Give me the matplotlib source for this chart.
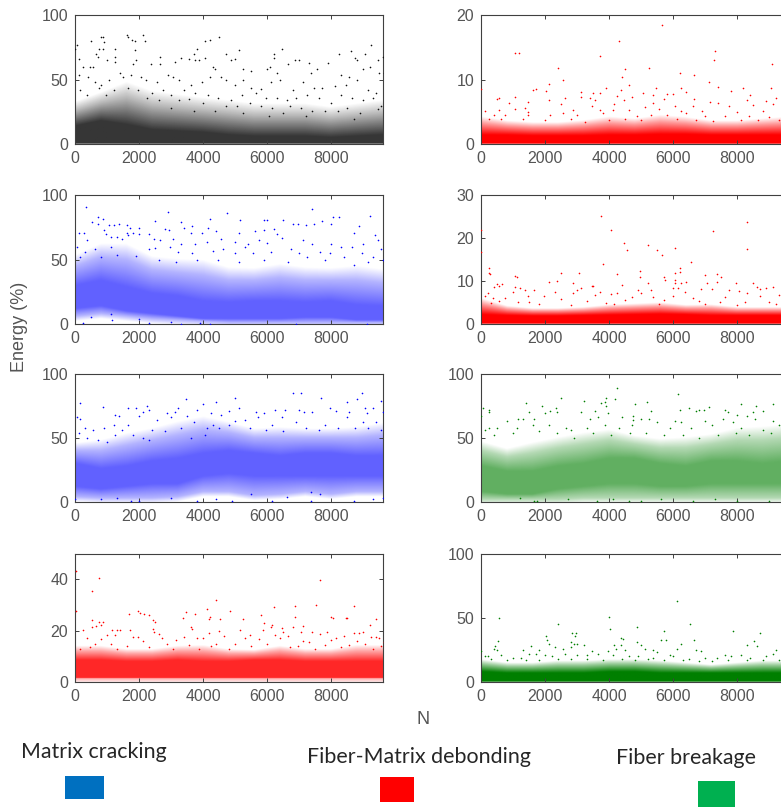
import numpy as np
import matplotlib
matplotlib.use("Agg")
import matplotlib.pyplot as plt
from matplotlib.colors import to_rgb
from matplotlib.patches import Rectangle

W, H = 781, 807
BLACK, BLUE, RED, GREEN = "#111111", "#0000FF", "#FF0000", "#007F00"

# x positions at which the density-band edges were read
band_x = [0, 800, 1600, 2400, 3200, 4000, 4800, 5600, 6400, 7200, 8000, 8800, 9615]

p1_outer = [26, 32, 36, 30, 28, 26, 24, 22, 22, 22, 20, 22, 24]
p1_inner = [14, 18, 15, 11, 10, 9, 7, 6, 6, 6, 5, 6, 7]
p2_outer = [3.2, 2.8, 2.6, 2.6, 2.8, 3.2, 3.0, 3.4, 3.2, 2.8, 2.8, 3.0, 3.2]
p2_inner = [1.4, 1.4, 1.3, 1.3, 1.3, 1.4, 1.4, 1.5, 1.5, 1.4, 1.4, 1.4, 1.4]
p3_outer_top = [45, 52, 50, 42, 40, 38, 34, 34, 36, 34, 34, 34, 32]
p3_outer_low = [6, 8, 6, 4, 3, 2, 1, 1, 1, 1, 1, 1, 1]
p3_inner_top = [30, 34, 29, 24, 22, 18, 17, 18, 18, 17, 18, 15, 14]
p3_inner_low = [12, 14, 10, 8, 6, 4, 4, 4, 4, 5, 5, 3, 3]
p4_outer = [4.6, 3.4, 3.0, 3.0, 3.2, 3.6, 3.8, 4.0, 3.6, 3.6, 3.2, 3.2, 3.2]
p4_inner = [2.2, 2.0, 1.9, 1.9, 2.0, 2.1, 2.2, 2.3, 2.2, 2.0, 2.0, 2.0, 2.0]
p5_outer_top = [40, 40, 44, 48, 52, 56, 54, 50, 50, 50, 50, 50, 52]
p5_outer_low = [4, 3, 3, 3, 4, 8, 8, 5, 6, 8, 6, 8, 8]
p5_inner_top = [30, 26, 28, 32, 34, 38, 40, 38, 36, 38, 38, 36, 36]
p5_inner_low = [12, 10, 12, 14, 14, 20, 22, 20, 20, 20, 20, 20, 20]
p6_outer_top = [40, 35, 38, 42, 45, 48, 45, 42, 42, 45, 48, 48, 50]
p6_outer_low = [2, 2, 2, 2, 3, 3, 3, 3, 3, 3, 3, 3, 3]
p6_inner_top = [28, 24, 24, 28, 30, 34, 34, 30, 28, 32, 32, 30, 32]
p6_inner_low = [8, 6, 6, 10, 12, 14, 14, 12, 12, 14, 14, 14, 14]
p7_outer = [12, 12, 11, 11, 12, 12, 11, 11, 12, 11, 11, 12, 12]
p7_inner = [8.5, 8.5, 8, 8, 8.5, 8, 8, 8.5, 8.5, 8, 8, 8, 8]
p7_low = [1.5, 1.5, 1.5, 1.5, 1.5, 1.5, 1.5, 1.5, 1.5, 1.5, 1.5, 1.5, 1.5]
p8_outer = [14, 12, 12, 13, 13, 14, 14, 13, 12, 11, 12, 13, 13]
p8_inner = [8, 7, 7, 7, 7, 8, 8, 7, 7, 7, 7, 7, 7]
zero_edge = [0] * 13

p1_points = [(1600,85),(1650,83),(1780,81),(1880,80),(2100,85),(2180,80),(800,83),(870,83),(900,79),(50,77),
(480,80),(1850,73),(850,74),(1250,74),(750,74),(0,74),(4050,80),(4200,81),(4500,83),(3800,74),(5100,73),(6450,74),
(6200,70),(9250,77),(9050,70),(9450,65),(9600,68),(8600,72),(8250,70),(8750,67),(8800,65),(7900,63),(7300,63),
(6850,65),(7000,65),(6650,62),(6200,67),(4700,70),(4850,65),(5000,66),(3700,70),(3300,67),(3550,66),(3750,65),
(3850,65),(4050,67),(2650,68),(2650,62),(3100,64),(2350,62),(1900,65),(1800,62),(650,70),(700,68),(130,66),
(240,60),(450,60),(560,60),(1000,65),(1250,68),(1250,64),(4300,60),(4350,58),(5250,58),(5500,57),(6000,58),
(6080,60),(6300,55),(7350,55),(7550,58),(8300,54),(8550,52),(9000,58),(9200,60),(9500,55),(9650,55),(100,54),
(400,52),(600,48),(800,46),(1050,50),(1400,55),(1500,52),(1750,54),(2050,52),(2200,50),(2550,48),(2900,54),
(3050,52),(3250,50),(3600,46),(3950,48),(4200,52),(4550,52),(4700,50),(5000,46),(5250,50),(5500,44),(5800,43),
(6100,48),(6400,50),(6800,42),(7100,48),(7450,44),(7700,44),(8100,45),(8450,46),(8800,50),(9150,42),(9400,40),
(150,42),(350,38),(750,44),(950,38),(1200,42),(1650,44),(1950,42),(2400,40),(2750,42),(3000,38),(3400,42),
(3750,40),(4150,38),(4450,36),(4850,34),(5200,38),(5650,40),(5950,36),(6300,36),(6600,34),(6900,36),(7250,38),
(7600,36),(8000,32),(8300,38),(8650,36),(9000,34),(9300,36),(9550,30),(2250,36),(2600,34),(3250,34),(3550,35),
(4000,32),(4700,30),(5050,30),(5450,32),(5800,30),(6150,28),(6700,30),(7050,28),(7400,26),(7800,26),(8200,26),
(8500,28),(8900,24),(9450,27),(3000,28),(3700,26),(4350,26),(5250,24),(6050,22),(6500,24),(7200,22),(8700,20)]

p2_points = [(5650,18.5),(4300,16),(1050,14.2),(1170,14.2),(7300,14.4),(7270,13),(3700,13.7),(9080,12.4),(2400,11.9),
(5250,11.9),(4500,11.6),(6200,11.1),(4400,10.5),(6650,10.7),(2550,9.9),(7100,9.6),(2100,9.3),(4600,9.2),(0,8.6),
(1600,8.4),(1700,8.5),(2030,8.2),(3900,8.7),(4350,8.4),(5450,8.7),(6250,8.7),(7400,8.9),(8170,8.7),(9050,8.8),
(3100,8.1),(3500,8),(3700,8),(5050,8),(6400,8.1),(7800,8.2),(5350,7.6),(5800,7.8),(6000,7.8),(8400,7.6),(1050,7.4),
(500,7.1),(560,7.2),(2600,7.2),(3100,7.3),(3400,7.2),(4250,7.5),(4700,7.4),(6650,7.1),(5720,7.1),(2100,6.9),
(3550,6.9),(4450,6.8),(8300,6.9),(8900,6.7),(9200,7.2),(850,6.4),(1470,6.5),(2500,6.3),(4150,6.3),(5350,6.4),
(7150,6.6),(7400,6.4),(7750,6),(8500,6.1),(9100,6.3),(1350,5.7),(3450,5.9),(5100,5.8),(6050,5.9),(6600,5.9),
(1050,5.4),(550,5.3),(130,5.2),(1450,5),(2850,5.3),(3700,5.3),(4100,5.3),(4600,5.3),(5550,5.5),(6250,5.2),(6900,5.2),
(8000,5),(8800,5.2),(400,4.5),(750,4.5),(1450,4.5),(2150,4.5),(2550,4.8),(3000,4.5),(3800,4.8),(4850,4.4),(5300,4.6),
(5800,4.6),(6400,4.8),(7000,4.4),(7600,4.4),(8350,4.4),(9000,4.3),(9500,4.2),(250,4),(600,3.9),(1300,4),(2000,3.7),
(2800,4),(3250,3.5),(4000,3.8),(4500,3.9),(5000,3.7),(6100,3.9),(6700,3.7),(7250,3.6),(8100,3.7),(8650,3.8),(9300,3.7)]

p3_points = [(330,91),(2900,87),(7400,89),(4750,86),(4200,82),(9200,84),(8050,83),(8250,83),(700,83),(880,82),(2500,80),
(5150,81),(5900,81),(5980,81),(6500,81),(520,79),(720,78),(3300,79),(6800,78),(6950,78),(7200,77),(7450,78),(7700,80),
(8000,78),(8850,76),(1050,77),(1200,77),(1350,78),(1600,77),(1700,75),(2000,75),(3400,75),(3650,76),(4150,75),
(6200,74),(5900,73),(2800,74),(2930,73),(900,73),(1600,71),(100,71),(280,71),(950,70),(1650,69),(1800,71),(2000,70),
(2300,70),(3600,71),(3950,71),(4400,72),(5100,71),(5600,72),(6300,70),(8700,71),(9350,69),(9450,65),(1100,68),(1300,68),
(1450,66),(350,65),(2450,66),(2650,65),(3050,66),(3300,62),(3750,62),(4100,64),(4550,66),(5000,64),(5400,62),(5750,65),
(6000,63),(6450,67),(7100,65),(7400,62),(8000,62),(8300,60),(8650,60),(9000,62),(9550,58),(50,60),(300,56),(600,58),
(1100,60),(2300,58),(2500,59),(2950,60),(3200,56),(3650,55),(4300,57),(4600,58),(5000,55),(5300,60),(5550,55),(6100,56),
(6750,58),(7000,55),(7650,56),(7950,55),(8400,52),(8950,55),(9300,52),(9600,50),(150,52),(800,52),(1300,54),(1900,53),
(2600,50),(3150,48),(3800,50),(4450,50),(5100,48),(5900,50),(6650,48),(7250,52),(7800,50),(8700,46),(9150,48),(1100,8),
(2000,4),(3000,2),(3900,1),(4200,0.5),(2300,1),(250,1),(1150,3),(3300,0.5),(9100,0.5),(6900,0.5),(500,6)]

p4_points = [(0,21.9),(0,16.7),(3750,25.2),(4050,22),(8300,23.7),(7250,21.8),(4450,19),(5200,18.5),(5500,17.2),(4550,17.2),
(8300,17.6),(6050,17.8),(5650,16.1),(6550,14.6),(3800,14),(6200,13.2),(230,13),(240,12),(270,11.6),(2500,12),(3050,12),
(4950,12.3),(6050,11.9),(6200,12.2),(4250,11.7),(7000,11.5),(7350,11.7),(1050,11.3),(1100,11.1),(4950,11),(5700,11),
(6050,10.2),(7500,10.9),(5750,10.3),(2100,9.8),(2350,10.1),(2850,9.7),(5200,9.6),(6050,9.7),(6250,9.6),(6400,9.8),
(7050,9.7),(7350,9.9),(7950,9.7),(8500,9.6),(500,9.4),(650,9.4),(550,9),(4400,9.2),(3450,8.8),(3500,8.9),(9100,8.6),
(400,8.7),(1050,8.6),(1200,8.4),(3100,8.5),(5300,8),(6150,8.5),(6000,8.4),(7200,8.3),(8700,8.3),(8900,8.4),(8600,8.7),
(1350,7.9),(1650,7.9),(3000,8),(4900,8),(3700,7.6),(6850,8.2),(7750,7.9),(8050,7.7),(200,7.3),(1000,7.4),(2300,7.6),
(2850,7.3),(4050,7),(4250,7.2),(6350,7.4),(8300,7.3),(9300,6.7),(100,6.5),(350,6.2),(750,6.2),(1450,6.5),(1950,6.6),
(3550,6.7),(4700,6.4),(5000,7.2),(5350,6.3),(6000,6.6),(6600,6.1),(7600,6.4),(8700,6.6),(9500,6.5),(550,5.5),(1150,5.2),
(1500,5.3),(2500,5.8),(3300,5.4),(3900,5),(4500,5.6),(5700,5.6),(6800,5.4),(7450,5.3),(8250,5.2),(9000,5.3),(300,4.9),
(1800,4.7),(2800,4.6),(4150,4.8),(5550,4.7),(7000,4.7),(8000,4.5),(9200,4.8)]

p5_points = [(6800,85),(7050,85),(8950,85),(4980,81),(3450,80),(7680,81),(9550,79),(150,77),(4400,78),(8500,78),(8800,80),
(4000,76),(850,74),(2250,75),(1650,73),(1900,73),(3200,73),(5100,73),(9050,73),(2100,70),(2300,72),(3800,72),(4250,69),
(4800,71),(6250,72),(6550,72),(7000,72),(7950,73),(8150,71),(9300,73),(1250,68),(1350,67),(2000,67),(2850,69),(3100,70),
(3500,67),(4550,68),(5650,70),(5900,69),(7150,70),(7400,70),(8550,70),(9100,69),(9600,70),(50,66),(150,65),(1200,60),
(1650,60),(2550,64),(3000,66),(3700,62),(4300,60),(5000,63),(5300,64),(5700,66),(6150,60),(6450,66),(6900,62),(7800,60),
(8500,66),(9000,62),(9400,62),(300,58),(550,56),(900,58),(1450,56),(2400,56),(2800,55),(3300,58),(4100,58),(4500,58),
(4800,60),(5450,58),(5950,56),(6500,55),(7200,58),(7600,56),(8200,58),(8750,58),(9150,58),(9550,56),(100,54),(350,50),
(700,48),(1000,47),(1250,52),(1800,52),(2100,50),(2300,48),(3600,50),(4050,52),(2,2),(1750,0.5),(2000,1),(3800,1),(4900,1),
(3000,3),(4400,2),(6150,1),(7350,0.5),(8700,1),(9300,2),(9600,3),(7650,6),(7350,8),(5500,6),(800,2),(1300,3),(6600,4)]

p6_points = [(4230,89),(6150,84),(2500,81),(3900,81),(3880,78),(4170,80),(3200,79),(1400,77),(3750,77),(3900,75),(5170,78),
(4800,76),(1900,75),(2320,73),(50,73),(230,72),(250,70),(7130,74),(6800,72),(6950,72),(8100,76),(8570,75),(9100,76),
(7600,72),(7700,70),(6200,72),(6700,71),(6500,73),(5300,71),(2150,71),(1500,70),(2000,69),(2350,70),(3100,70),(3550,71),
(3950,69),(8000,68),(8500,70),(8800,71),(8300,67),(0,67),(4750,67),(5000,65),(1150,65),(1300,65),(800,63),(1650,65),(3400,65),
(3650,66),(4400,66),(4750,64),(5250,65),(6050,63),(6250,62),(7000,63),(7550,65),(7850,62),(8550,65),(9100,63),(9600,65),
(250,58),(100,56),(500,58),(1100,58),(1600,60),(2100,60),(2650,58),(2800,56),(3300,58),(3850,60),(4300,58),(4700,60),(5500,62),
(5900,58),(6550,58),(7200,60),(8100,58),(8800,56),(9300,60),(400,52),(1000,54),(1800,55),(2350,54),(2900,50),(3500,54),(4050,52),
(4650,54),(5150,54),(5700,52),(6300,52),(6800,50),(7400,52),(7950,54),(8350,52),(9050,54),(9500,54),(1750,0.5),(1650,1),(3600,1),
(5000,1),(5600,2),(6600,1),(8000,1),(9000,1),(1200,3),(2700,2),(4100,2),(4600,1),(7300,2)]

p7_points = [(30,43.2),(750,40.5),(7640,39.6),(520,35.5),(4400,32),(7530,30),(6850,29.7),(8700,29.5),(6200,29.3),(4100,28.6),
(4820,27.7),(20,27.7),(1680,26.6),(1950,27.5),(2020,27),(2150,26.5),(2300,26),(3460,27.4),(3750,26.6),(5800,26),(4200,25.3),
(7990,25.5),(8040,25),(8450,25),(8500,24.8),(3370,25),(4170,24.5),(4530,24.5),(5250,24.4),(6850,25.2),(9410,24.7),(2420,24),
(2490,23.5),(510,24),(730,23.5),(860,23.5),(800,22.2),(5900,23),(6150,22.2),(7120,22),(9220,22.3),(530,21.5),(660,21.7),(6130,21.5),
(3600,21.5),(3650,20.7),(2430,20.8),(6450,21),(6800,21.3),(250,20.3),(1150,20.2),(1300,20.3),(1400,20.2),(1700,20.2),(2450,19.5),
(4180,19),(4500,19.7),(5150,20.4),(5850,20.4),(6500,19.5),(7050,19.4),(7400,19.3),(7650,18.7),(7850,19.5),(8700,19),(8850,19),
(9000,19.3),(2600,18.8),(1000,18.5),(1250,18.3),(1800,17.6),(1950,17.5),(3400,17.5),(4650,18),(5450,18.2),(6250,18.2),(6650,17.8),
(8400,17.8),(8150,17.2),(9250,17.5),(9400,17.4),(9500,17.3),(350,17),(800,16.8),(2700,17),(3150,16.5),(3800,17),(4000,17),(5300,17),
(5750,16.6),(6400,17),(7100,16),(7300,15.5),(8000,16.5),(8800,15.8),(9650,15.5),(600,15),(1100,15),(2100,15.8),(2850,15),(3550,14.5),
(4400,15),(5000,15),(5500,14),(6000,15),(6950,14),(7800,14.5),(8550,14.5),(9050,15),(150,13),(450,13.5),(1300,13),(1600,14),(2300,13.5),
(3050,13),(3850,13),(4250,14),(4800,13),(6700,13.5),(7500,13),(8300,13.5),(9300,13),(9550,14)]

p8_points = [(6100,63.5),(550,50),(4000,51),(2390,45),(6520,45),(4850,43),(4030,41),(5720,40),(7880,39.5),(2840,38),(2960,38),
(8700,38),(2940,35.5),(2020,36),(4350,34),(4420,33.5),(5600,33),(5780,33),(6650,33),(520,32),(2050,32.5),(2800,31.5),(4850,31),
(8520,32),(430,28),(2100,30),(1540,28),(2900,30),(3000,30),(3200,29),(4150,29),(4350,29),(5000,29),(6250,29.5),(8300,28.5),(8600,28),
(9600,27),(0,24),(400,26),(500,25),(1300,25),(1800,25),(2300,27),(2560,26),(2800,27),(3450,24),(3950,24),(4200,26),(4500,25),
(5100,26),(5350,25),(5500,23),(6100,26),(6700,25),(6850,24),(9200,25),(9400,25),(100,20),(200,20),(600,21),(1000,19),(1250,19),
(1500,22),(1700,22),(2000,21),(2200,20),(2600,22),(3000,21),(3300,21),(3650,22),(4100,21),(4600,20),(4900,20),(5350,19),(5900,21),
(6000,20),(6500,18),(7000,19),(7350,19),(7600,21),(7800,20),(8100,21),(8400,19),(8900,20),(9100,22),(9500,21),(300,18),(800,17),
(1400,17),(1800,17),(2400,18),(2800,18),(3300,18),(3800,17),(4400,18),(4800,17),(5200,18),(5700,17),(6300,17),(6800,16),(7200,16),
(7700,17),(8300,17),(8800,17),(9300,17),(9650,16)]

y_limits = [(0, 100), (0, 20), (0, 100), (0, 30), (0, 100), (0, 100), (0, 50), (0, 100)]
y_ticks = [[0, 50, 100], [0, 10, 20], [0, 50, 100], [0, 10, 20, 30],
           [0, 50, 100], [0, 50, 100], [0, 20, 40], [0, 50, 100]]
x_ticks = [0, 2000, 4000, 6000, 8000]

plt.rcParams["font.family"] = ["Liberation Sans", "DejaVu Sans"]
fig = plt.figure(figsize=(W / 100, H / 100), dpi=100, facecolor="white")

col_left = [75.3, 481.3]
row_span = [(15.3, 144.3), (195.3, 324.3), (373.7, 502.0), (553.7, 682.0)]
ax_w = 307.7


def make_axes(row, col, idx):
    top, bot = row_span[row]
    ax = fig.add_axes([col_left[col] / W, 1 - bot / H, ax_w / W, (bot - top) / H])
    ax.set_xlim(0, 9615)
    ax.set_ylim(*y_limits[idx])
    ax.set_xticks(x_ticks)
    ax.set_yticks(y_ticks[idx])
    ax.tick_params(direction="in", length=3, width=0.7, top=True, right=True,
                   color="#404040", labelcolor="#555555", labelsize=11.5, pad=5)
    for s in ax.spines.values():
        s.set_color("#404040")
        s.set_linewidth(0.8)
        s.set_clip_on(False)
    return ax


def soft_band(ax, out_top, out_low, in_top, in_low, color, a_in, a_out):
    """Shade the read density bands with a soft falloff past their edges."""
    ymax = ax.get_ylim()[1]
    xs = np.linspace(0, 9615, 300)
    ys = np.linspace(0, ymax, 260)
    ot, ol = np.interp(xs, band_x, out_top), np.interp(xs, band_x, out_low)
    it, il = np.interp(xs, band_x, in_top), np.interp(xs, band_x, in_low)
    img = np.zeros((ys.size, xs.size, 4))
    img[..., :3] = to_rgb(color)
    eps = ymax * 1e-4
    for i in range(xs.size):
        low_o = ol[i]
        low_i = max(il[i], low_o + eps)
        top_i = max(it[i], low_i + eps)
        top_o = max(ot[i], top_i + eps)
        fade_lo = max(low_o - 0.04 * ymax, -ymax * 0.04) if low_o > 0 else -ymax * 0.04
        fade_hi = top_o + 0.6 * (top_o - top_i)
        img[:, i, 3] = np.interp(ys, [fade_lo, low_o, low_i, top_i, top_o, fade_hi],
                                 [0, a_out, a_in, a_in, a_out, 0])
    ax.imshow(img, extent=(0, 9615, 0, ymax), origin="lower", aspect="auto",
              interpolation="bilinear", zorder=1)
    ax.set_xlim(0, 9615)
    ax.set_ylim(0, ymax)


def dots(ax, pts, color):
    a = np.array(pts, dtype=float)
    ax.scatter(a[:, 0], a[:, 1], s=1.4, c=color, linewidths=0, zorder=3)


a1 = make_axes(0, 0, 0); soft_band(a1, p1_outer, zero_edge, p1_inner, zero_edge, BLACK, 0.85, 0.3); dots(a1, p1_points, BLACK)
a2 = make_axes(0, 1, 1); soft_band(a2, p2_outer, zero_edge, p2_inner, zero_edge, RED, 1.0, 0.4); dots(a2, p2_points, RED)
a3 = make_axes(1, 0, 2); soft_band(a3, p3_outer_top, p3_outer_low, p3_inner_top, p3_inner_low, BLUE, 0.62, 0.3); dots(a3, p3_points, BLUE)
a4 = make_axes(1, 1, 3); soft_band(a4, p4_outer, zero_edge, p4_inner, zero_edge, RED, 1.0, 0.4); dots(a4, p4_points, RED)
a5 = make_axes(2, 0, 4); soft_band(a5, p5_outer_top, p5_outer_low, p5_inner_top, p5_inner_low, BLUE, 0.62, 0.3); dots(a5, p5_points, BLUE)
a6 = make_axes(2, 1, 5); soft_band(a6, p6_outer_top, p6_outer_low, p6_inner_top, p6_inner_low, GREEN, 0.62, 0.3); dots(a6, p6_points, GREEN)
a7 = make_axes(3, 0, 6); soft_band(a7, p7_outer, p7_low, p7_inner, p7_low, RED, 0.85, 0.35); dots(a7, p7_points, RED)
a8 = make_axes(3, 1, 7); soft_band(a8, p8_outer, zero_edge, p8_inner, zero_edge, GREEN, 1.0, 0.4); dots(a8, p8_points, GREEN)


def px_text(x, y, s, **kw):
    fig.text(x / W, 1 - y / H, s, **kw)


px_text(20, 327, "Energy (%)", rotation=90, ha="center", va="center", fontsize=13, color="#555555")
px_text(423, 720, "N", ha="center", va="center", fontsize=13, color="#555555")
legend_font = ["Lato", "DejaVu Sans"]
px_text(21, 752, "Matrix cracking", ha="left", va="center", fontsize=15.4, color="#262626", family=legend_font)
px_text(307, 757, "Fiber-Matrix debonding", ha="left", va="center", fontsize=15.4, color="#262626", family=legend_font)
px_text(616, 758, "Fiber breakage", ha="left", va="center", fontsize=15.4, color="#262626", family=legend_font)

for (x0, y0, x1, y1, c) in [(65, 776, 104, 799, "#0070C0"), (380, 777, 414, 802, "#FF0000"), (698, 781, 735, 807, "#00B050")]:
    fig.add_artist(Rectangle((x0 / W, 1 - y1 / H), (x1 - x0) / W, (y1 - y0) / H,
                             transform=fig.transFigure, facecolor=c, edgecolor="none"))

fig.savefig("out.png", dpi=100, facecolor="white")
